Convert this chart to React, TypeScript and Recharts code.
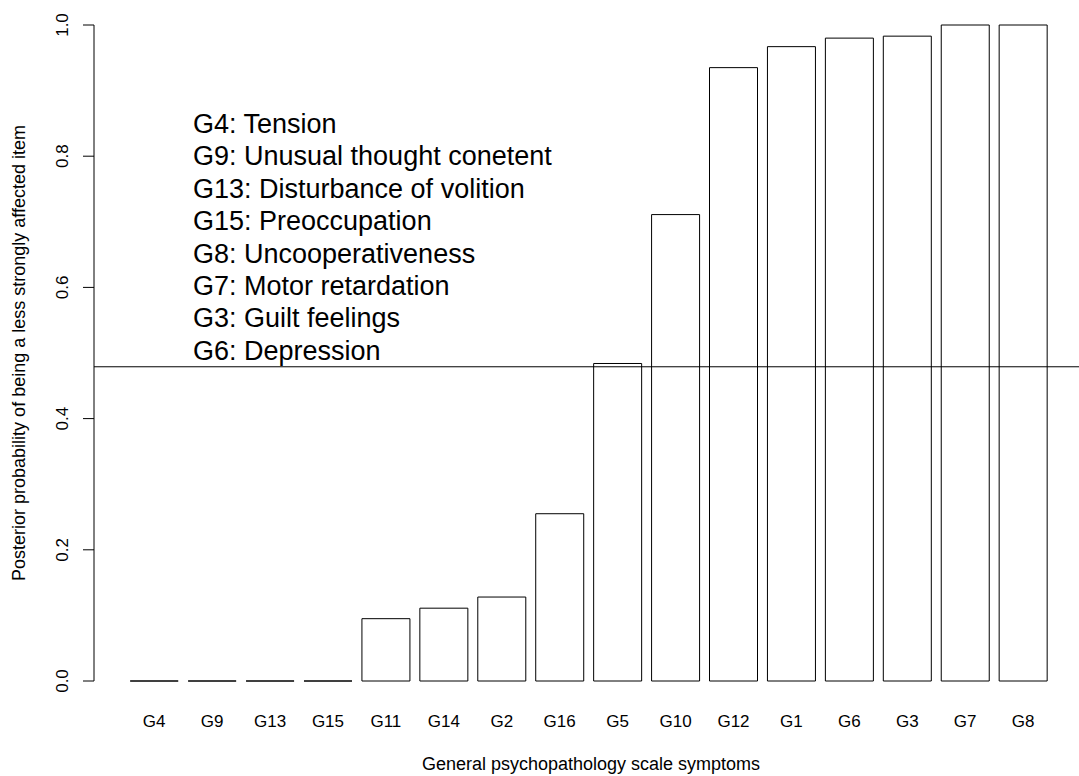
import React from 'react'
import { BarChart, Bar, XAxis, YAxis, ReferenceLine } from 'recharts'

const categories = ['G4', 'G9', 'G13', 'G15', 'G11', 'G14', 'G2', 'G16', 'G5', 'G10', 'G12', 'G1', 'G6', 'G3', 'G7', 'G8']
const probabilities = [0, 0, 0, 0, 0.095, 0.111, 0.128, 0.255, 0.484, 0.711, 0.935, 0.967, 0.98, 0.983, 1.0, 1.0]
const cutoff = 0.479
const yTicks = [0, 0.2, 0.4, 0.6, 0.8, 1.0]
const legendLines = [
  'G4: Tension',
  'G9: Unusual thought conetent',
  'G13: Disturbance of volition',
  'G15: Preoccupation',
  'G8: Uncooperativeness',
  'G7: Motor retardation',
  'G3: Guilt feelings',
  'G6: Depression',
]
const xTitle = 'General psychopathology scale symptoms'
const yTitle = 'Posterior probability of being a less strongly affected item'

const FONT = '"Liberation Sans", Arial, Helvetica, sans-serif'

const data = categories.map((name, i) => ({ name, value: probabilities[i] }))

// R draws zero-height bars as a flat line, so use a path instead of Rectangle
const BarShape = (props: any) => {
  const { x, y, width, height } = props
  return <path d={`M${x},${y}h${width}v${height}h${-width}Z`} fill="#fff" stroke="#000" strokeWidth={1} />
}

const XTick = (props: any) => {
  const { x, y, payload } = props
  return (
    <text x={x} y={y + 46} textAnchor="middle" fontSize={17} fontFamily={FONT} fill="#000">
      {payload.value}
    </text>
  )
}

const YTick = (props: any) => {
  const { y, payload } = props
  const tx = 68
  return (
    <text x={tx} y={y} transform={`rotate(-90, ${tx}, ${y})`} textAnchor="middle" fontSize={17} fontFamily={FONT} fill="#000">
      {payload.value.toFixed(1)}
    </text>
  )
}

export default function App() {
  return (
    <div style={{ position: 'absolute', left: 0, top: 0, width: 1079, height: 776, background: '#fff' }}>
      <BarChart width={1079} height={776} data={data} margin={{ top: 25, right: 0, bottom: 0, left: 0 }}>
        <XAxis
          dataKey="name"
          height={95}
          axisLine={false}
          tickLine={false}
          tickSize={0}
          tickMargin={0}
          interval={0}
          padding={{ left: 31.2, right: 26.9 }}
          tick={<XTick />}
        />
        <YAxis
          width={94}
          domain={[0, 1]}
          ticks={yTicks}
          tickSize={11}
          tick={<YTick />}
          axisLine={{ stroke: '#000' }}
          tickLine={{ stroke: '#000' }}
        />
        <Bar dataKey="value" barSize={48} shape={<BarShape />} isAnimationActive={false} />
        <ReferenceLine y={cutoff} stroke="#000" strokeWidth={1} ifOverflow="visible" />
      </BarChart>
      <svg width={1079} height={776} style={{ position: 'absolute', left: 0, top: 0, pointerEvents: 'none' }}>
        {legendLines.map((line, i) => (
          <text key={line} x={193} y={133 + i * 32.4} fontSize={27} fontFamily={FONT} fill="#000">
            {line}
          </text>
        ))}
        <text x={591} y={770} textAnchor="middle" fontSize={18} fontFamily={FONT} fill="#000">
          {xTitle}
        </text>
        <text x={25} y={353} transform="rotate(-90, 25, 353)" textAnchor="middle" fontSize={18} fontFamily={FONT} fill="#000">
          {yTitle}
        </text>
      </svg>
    </div>
  )
}
